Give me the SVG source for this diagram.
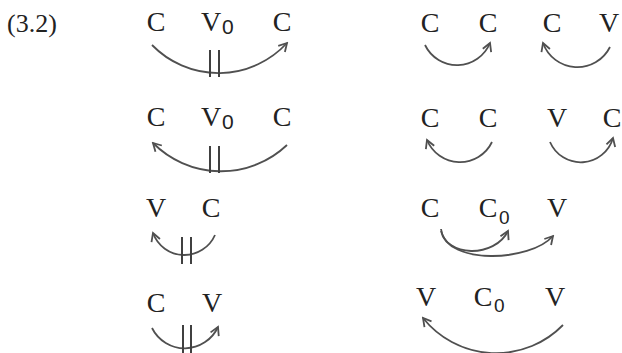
<svg xmlns="http://www.w3.org/2000/svg" width="622" height="353" viewBox="0 0 622 353">
<style>
.t{font-family:"Liberation Serif","Times New Roman",serif;font-size:28px;fill:#222;text-anchor:middle}
.s{font-family:"Liberation Sans",Arial,sans-serif;font-size:21px;fill:#222}
.n{font-family:"Liberation Serif","Times New Roman",serif;font-size:26px;fill:#222}
.a{fill:none;stroke:#505050;stroke-width:1.8;marker-end:url(#ah)}
.b{stroke:#404040;stroke-width:2}
</style>
<defs>
<marker id="ah" viewBox="-10 -6 12 12" markerWidth="12" markerHeight="12" markerUnits="userSpaceOnUse" orient="auto" refX="0" refY="0">
<path d="M-8,-4.5 L0,0 L-8,4.5" fill="none" stroke="#505050" stroke-width="1.8"/>
</marker>
</defs>
<rect width="622" height="353" fill="#ffffff"/>
<text class="n" x="7" y="32">(3.2)</text>

<g id="n-r1l-C1"><text class="t" x="156" y="31">C</text></g>
<g id="n-r1l-V0"><text class="t" x="211" y="31">V</text><text class="s" x="222" y="34">0</text></g>
<g id="n-r1l-C2"><text class="t" x="282" y="31">C</text></g>

<g id="n-r2l-C1"><text class="t" x="156" y="126">C</text></g>
<g id="n-r2l-V0"><text class="t" x="211" y="126">V</text><text class="s" x="222" y="129">0</text></g>
<g id="n-r2l-C2"><text class="t" x="282" y="126">C</text></g>

<g id="n-r3l-V"><text class="t" x="156" y="217">V</text></g>
<g id="n-r3l-C"><text class="t" x="211" y="217">C</text></g>

<g id="n-r4l-C"><text class="t" x="156" y="312">C</text></g>
<g id="n-r4l-V"><text class="t" x="212" y="312">V</text></g>

<g id="n-r1r-C1"><text class="t" x="430" y="32">C</text></g>
<g id="n-r1r-C2"><text class="t" x="488" y="32">C</text></g>
<g id="n-r1r-C3"><text class="t" x="552" y="32">C</text></g>
<g id="n-r1r-V"><text class="t" x="609" y="32">V</text></g>

<g id="n-r2r-C1"><text class="t" x="430" y="127">C</text></g>
<g id="n-r2r-C2"><text class="t" x="488" y="127">C</text></g>
<g id="n-r2r-V"><text class="t" x="557" y="127">V</text></g>
<g id="n-r2r-C3"><text class="t" x="612" y="127">C</text></g>

<g id="n-r3r-C"><text class="t" x="430" y="217">C</text></g>
<g id="n-r3r-C0"><text class="t" x="488" y="217">C</text><text class="s" x="499" y="224" style="font-size:19px">0</text></g>
<g id="n-r3r-V"><text class="t" x="557" y="217">V</text></g>

<g id="n-r4r-V1"><text class="t" x="426" y="306">V</text></g>
<g id="n-r4r-C0"><text class="t" x="483" y="306">C</text><text class="s" x="494" y="312" style="font-size:19px">0</text></g>
<g id="n-r4r-V2"><text class="t" x="555" y="306">V</text></g>

<g id="connectors">
<path class="a" d="M152,45 A93,93 0 0 0 287,43"/>
<line class="b" x1="210" y1="50" x2="210" y2="77"/><line class="b" x1="219" y1="50" x2="219" y2="77"/>
<path class="a" d="M287,145 A96,96 0 0 1 153,143"/>
<line class="b" x1="210" y1="146" x2="210" y2="173"/><line class="b" x1="219" y1="146" x2="219" y2="173"/>
<path class="a" d="M215,235 A33.4,33.4 0 0 1 153,233"/>
<line class="b" x1="182" y1="237" x2="182" y2="264"/><line class="b" x1="191" y1="237" x2="191" y2="264"/>
<path class="a" d="M152,328 A36.6,36.6 0 0 0 218,327"/>
<line class="b" x1="183" y1="325" x2="183" y2="353"/><line class="b" x1="191" y1="325" x2="191" y2="353"/>

<path class="a" d="M425,45 A35.6,35.6 0 0 0 490,43"/>
<path class="a" d="M610,47 A36.5,36.5 0 0 1 543,43"/>
<path class="a" d="M492,142 A35.6,35.6 0 0 1 427,140"/>
<path class="a" d="M550,142 A33.5,33.5 0 0 0 613,138"/>

<path class="a" d="M441,229 C445,258 495,258 508,231"/>
<path class="a" d="M441,231 C448,265 530,262 553,236"/>
<path class="a" d="M563,325 A93.5,93.5 0 0 1 423,318"/>
</g>
</svg>
